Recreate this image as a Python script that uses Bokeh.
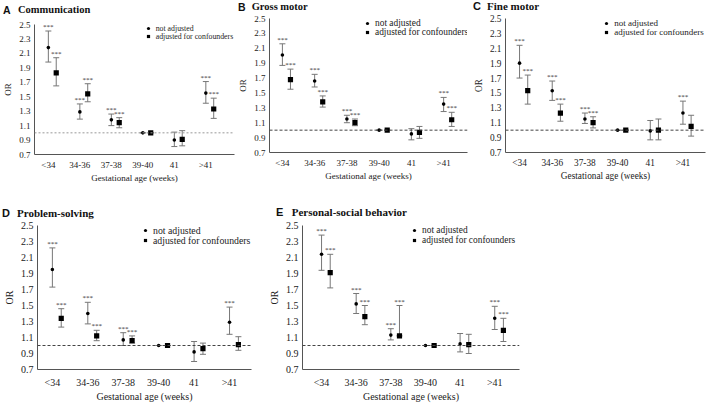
from bokeh.plotting import figure
from bokeh.models import (ColumnDataSource, Range1d, FixedTicker, PrintfTickFormatter,
                          Whisker, TeeHead, Span, Legend, LegendItem, Div)
from bokeh.layouts import column, row
from bokeh.core.properties import value
from bokeh.embed import file_html
from bokeh.resources import INLINE

categories = ["<34", "34-36", "37-38", "39-40", "41", ">41"]
y_ticks = [0.7, 0.9, 1.1, 1.3, 1.5, 1.7, 1.9, 2.1, 2.3, 2.5]
legend_labels = ["not adjusted", "adjusted for confounders"]
x_title = "Gestational age (weeks)"
y_title = "OR"

# A Communication
comm_or = [2.18, 1.29, 1.18, 1.00, 0.90, 1.55]
comm_lo = [1.98, 1.19, 1.10, 1.00, 0.81, 1.41]
comm_hi = [2.41, 1.40, 1.26, 1.00, 1.01, 1.71]
comm_adj_or = [1.83, 1.54, 1.14, 1.00, 0.91, 1.33]
comm_adj_lo = [1.65, 1.43, 1.07, 1.00, 0.82, 1.20]
comm_adj_hi = [2.04, 1.68, 1.21, 1.00, 1.03, 1.48]
comm_sig = [1, 1, 1, 0, 0, 1]
comm_adj_sig = [1, 1, 1, 0, 0, 1]

# B Gross motor
gross_or = [2.01, 1.66, 1.15, 1.00, 0.95, 1.35]
gross_lo = [1.87, 1.58, 1.10, 1.00, 0.87, 1.25]
gross_hi = [2.16, 1.75, 1.20, 1.00, 1.02, 1.44]
gross_adj_or = [1.68, 1.38, 1.10, 1.00, 0.97, 1.14]
gross_adj_lo = [1.55, 1.31, 1.06, 1.00, 0.89, 1.05]
gross_adj_hi = [1.82, 1.46, 1.15, 1.00, 1.05, 1.24]
gross_sig = [1, 1, 1, 0, 0, 1]
gross_adj_sig = [1, 1, 1, 0, 0, 1]

# C Fine motor
fine_or = [1.90, 1.53, 1.15, 1.00, 0.99, 1.23]
fine_lo = [1.70, 1.40, 1.09, 1.00, 0.87, 1.08]
fine_hi = [2.14, 1.66, 1.23, 1.00, 1.13, 1.39]
fine_adj_or = [1.53, 1.23, 1.10, 1.00, 1.00, 1.05]
fine_adj_lo = [1.35, 1.12, 1.03, 1.00, 0.87, 0.92]
fine_adj_hi = [1.74, 1.35, 1.18, 1.00, 1.15, 1.20]
fine_sig = [1, 1, 1, 0, 0, 1]
fine_adj_sig = [1, 1, 1, 0, 0, 0]

# D Problem-solving
prob_or = [1.95, 1.40, 1.07, 1.00, 0.92, 1.29]
prob_lo = [1.73, 1.27, 1.00, 1.00, 0.80, 1.14]
prob_hi = [2.22, 1.54, 1.16, 1.00, 1.05, 1.48]
prob_adj_or = [1.34, 1.12, 1.06, 1.00, 0.96, 1.01]
prob_adj_lo = [1.23, 1.06, 1.03, 1.00, 0.89, 0.94]
prob_adj_hi = [1.46, 1.19, 1.12, 1.00, 1.03, 1.11]
prob_sig = [1, 1, 1, 0, 0, 1]
prob_adj_sig = [1, 1, 1, 0, 0, 0]

# E Personal-social behavior
pers_or = [2.14, 1.52, 1.13, 1.00, 1.02, 1.34]
pers_lo = [1.94, 1.40, 1.07, 1.00, 0.92, 1.20]
pers_hi = [2.38, 1.65, 1.21, 1.00, 1.15, 1.49]
pers_adj_or = [1.91, 1.36, 1.12, 1.00, 1.01, 1.19]
pers_adj_lo = [1.72, 1.26, 1.12, 1.00, 0.90, 1.05]
pers_adj_hi = [2.14, 1.50, 1.50, 1.00, 1.14, 1.34]
pers_sig = [1, 1, 1, 0, 0, 1]
pers_adj_sig = [1, 1, 1, 0, 0, 1]

SERIF = "Liberation Serif, Times New Roman, serif"
DIV_SERIF = "'Liberation Serif', 'Times New Roman', serif"
DIV_SANS = "'Liberation Sans', Arial, sans-serif"
WH = "#777777"


def panel(letter, name, raw, adj, sig_raw, sig_adj, st):
    fig_h = st["h"] - st["div_h"]
    fh = fig_h - st["top"] - st["bottom"]
    p = figure(width=st["w"], height=fig_h, x_range=Range1d(*st["xr"]),
               y_range=Range1d(0.7, 2.5), output_backend="svg", toolbar_location=None,
               min_border_left=st["left"], min_border_right=st["right"],
               min_border_top=st["top"], min_border_bottom=st["bottom"])
    p.outline_line_color = None
    p.xgrid.visible = False
    p.ygrid.visible = False

    n = len(categories)
    src_r = ColumnDataSource(dict(x=[i for i in range(n)], y=raw[0], lo=raw[1], hi=raw[2],
                                  star=["***" if s else "" for s in sig_raw]))
    src_a = ColumnDataSource(dict(x=[i + 0.25 for i in range(n)], y=adj[0], lo=adj[1], hi=adj[2],
                                  star=["***" if s else "" for s in sig_adj]))

    p.add_layout(Span(location=1.0, dimension="width", line_dash=st["dash_style"],
                      line_color=st["dash"], line_width=1))
    for src in (src_r, src_a):
        p.add_layout(Whisker(source=src, base="x", upper="hi", lower="lo",
                             line_color=WH, line_width=1,
                             upper_head=TeeHead(size=6, line_color=WH, line_width=1),
                             lower_head=TeeHead(size=6, line_color=WH, line_width=1)))
        p.text("x", "hi", text="star", source=src, text_font=value(SERIF),
               text_font_size="7px", text_align="center", text_baseline="bottom",
               y_offset=0, text_color="#333333")
    r1 = p.scatter("x", "y", source=src_r, marker="circle", size=3.6,
                   fill_color="black", line_color=None)
    r2 = p.scatter("x", "y", source=src_a, marker="square", size=5.2,
                   fill_color="black", line_color=None)

    fs = st["fs"]
    for ax in (p.xaxis, p.yaxis):
        ax.major_tick_line_color = None
        ax.minor_tick_line_color = None
        ax.major_tick_out = 0
        ax.major_tick_in = 0
        ax.axis_line_color = "#555555"
        ax.major_label_text_font = SERIF
        ax.major_label_text_font_size = fs
        ax.major_label_text_color = "#222222"
        ax.major_label_text_line_height = 1.0
        ax.axis_label_text_font = SERIF
        ax.axis_label_text_font_size = fs
        ax.axis_label_text_font_style = "normal"
        ax.axis_label_text_color = "#222222"
        ax.axis_label_text_line_height = 1.0
    p.xaxis.ticker = FixedTicker(ticks=list(range(n)))
    p.xaxis.major_label_overrides = {i: c for i, c in enumerate(categories)}
    p.xaxis.axis_label = x_title
    p.xaxis.major_label_standoff = st["xls"]
    p.xaxis.axis_label_standoff = st["xts"]
    p.yaxis.ticker = FixedTicker(ticks=y_ticks)
    p.yaxis.formatter = PrintfTickFormatter(format="%.1f")
    p.yaxis.axis_label = y_title
    p.yaxis.major_label_standoff = 4
    p.yaxis.axis_label_standoff = 3

    rh = 12
    for k, (lab, rr) in enumerate(((legend_labels[0], r1), (legend_labels[1], r2))):
        ly = fh - st["leg_dy"][k] - rh / 2
        leg = Legend(items=[LegendItem(label=lab, renderers=[rr])],
                     location=(st["leg_x"], ly), border_line_color=None,
                     background_fill_alpha=0, padding=0, margin=0, spacing=0,
                     glyph_width=8, glyph_height=rh, label_height=rh, label_standoff=4,
                     label_text_font=SERIF, label_text_font_size=st["lfs"],
                     label_text_line_height=1.0, label_text_color="#222222")
        p.add_layout(leg, "center")

    tfs = st["tfs"]
    top = st["title_cy"] - tfs * 0.6
    html = (
        f'<div style="position:relative;width:{st["w"]}px;height:{st["div_h"]}px;">'
        f'<span style="position:absolute;left:{st["letter_x"]}px;top:{top}px;'
        f'font-family:{DIV_SANS};font-weight:bold;font-size:{tfs}px;line-height:1.2;'
        f'color:#111;white-space:nowrap;">{letter}</span>'
        f'<span style="position:absolute;left:{st["title_x"]}px;top:{top}px;'
        f'font-family:{DIV_SERIF};font-weight:bold;font-size:{tfs}px;line-height:1.2;'
        f'color:#111;white-space:nowrap;">{name}</span></div>'
    )
    d = Div(text=html, width=st["w"], height=st["div_h"], margin=0)
    return column(d, p, spacing=0)


stA = dict(w=235, h=200, div_h=16, left=32, right=1, top=8, bottom=46, xr=(-0.44, 5.91),
           letter_x=3, title_x=18, title_cy=10, tfs=10.5,
           leg_x=109.7, leg_dy=(4.2, 12.0), lfs="7.8px", fs="9px",
           dash="#999999", dash_style="2 2", xls=5, xts=0)
stB = dict(w=235, h=200, div_h=12, left=32, right=3, top=6, bottom=48, xr=(-0.40, 5.74),
           letter_x=3, title_x=16.7, title_cy=7, tfs=10.5,
           leg_x=94, leg_dy=(4.7, 14.2), lfs="9.4px", fs="9px",
           dash="#444444", dash_style="3 2", xls=5, xts=0)
stC = dict(w=237, h=200, div_h=12, left=35, right=2, top=6, bottom=48, xr=(-0.43, 5.69),
           letter_x=3, title_x=17, title_cy=7, tfs=11,
           leg_x=97.3, leg_dy=(4.5, 13.5), lfs="9px", fs="9.3px",
           dash="#444444", dash_style="3 2", xls=5, xts=0)
stD = dict(w=262, h=205, div_h=18, left=37, right=11, top=7, bottom=36, xr=(-0.42, 5.62),
           letter_x=2, title_x=17, title_cy=14, tfs=11,
           leg_x=104, leg_dy=(5.0, 15.0), lfs="9.8px", fs="10px",
           dash="#444444", dash_style="3 2", xls=7, xts=0)
stE = dict(w=265, h=205, div_h=18, left=40, right=8, top=7, bottom=36, xr=(-0.55, 5.715),
           letter_x=14, title_x=29.7, title_cy=12.3, tfs=11,
           leg_x=108, leg_dy=(5.0, 15.0), lfs="9.4px", fs="10px",
           dash="#444444", dash_style="3 2", xls=7, xts=0)

pA = panel("A", "Communication", (comm_or, comm_lo, comm_hi),
           (comm_adj_or, comm_adj_lo, comm_adj_hi), comm_sig, comm_adj_sig, stA)
pB = panel("B", "Gross motor", (gross_or, gross_lo, gross_hi),
           (gross_adj_or, gross_adj_lo, gross_adj_hi), gross_sig, gross_adj_sig, stB)
pC = panel("C", "Fine motor", (fine_or, fine_lo, fine_hi),
           (fine_adj_or, fine_adj_lo, fine_adj_hi), fine_sig, fine_adj_sig, stC)
pD = panel("D", "Problem-solving", (prob_or, prob_lo, prob_hi),
           (prob_adj_or, prob_adj_lo, prob_adj_hi), prob_sig, prob_adj_sig, stD)
pE = panel("E", "Personal-social behavior", (pers_or, pers_lo, pers_hi),
           (pers_adj_or, pers_adj_lo, pers_adj_hi), pers_sig, pers_adj_sig, stE)

layout = column(row(pA, pB, pC, spacing=0), row(pD, pE, spacing=0), spacing=0)
open("out.html", "w").write(file_html(layout, INLINE))
